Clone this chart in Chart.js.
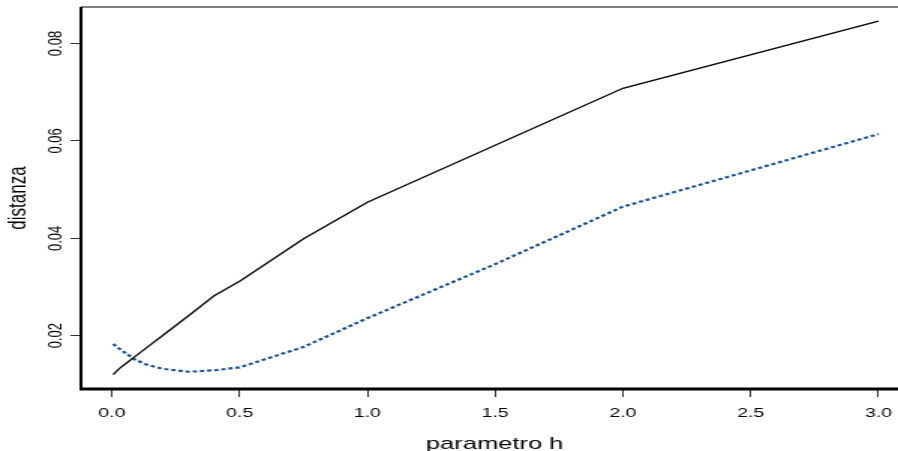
<!DOCTYPE html>
<html>
<head>
<meta charset="utf-8">
<script src="https://cdn.jsdelivr.net/npm/chart.js@4.4.1/dist/chart.umd.min.js"></script>
<style>
  html, body { margin: 0; padding: 0; background: #fff; overflow: hidden; }
  /* the reference is stretched horizontally, so draw narrow and stretch;
     the plot box runs past the right edge of the window, as in the reference */
  #wrap { width: 607px; height: 451px; transform: scaleX(1.49917); transform-origin: 0 0; }
</style>
</head>
<body>
<div id="wrap"><canvas id="myChart"></canvas></div>
<script>
var hVals = [0.005, 0.03, 0.06, 0.09, 0.14, 0.2, 0.3, 0.4, 0.5, 0.75, 1, 1.5, 2, 3];
var solidVals = [0.0120, 0.0133, 0.0145, 0.0157, 0.0177, 0.0201, 0.0241, 0.0282, 0.0312, 0.0399, 0.0474, 0.0591, 0.0708, 0.0846];
var dottedVals = [0.0183, 0.0173, 0.0162, 0.0151, 0.0140, 0.0132, 0.0126, 0.0129, 0.0135, 0.0177, 0.0236, 0.0347, 0.0465, 0.0614];
var xTicks = [0, 0.5, 1, 1.5, 2, 2.5, 3];
var yTicks = [0.02, 0.04, 0.06, 0.08];

function points(vals) {
  return hVals.map(function (h, i) { return { x: h, y: vals[i] }; });
}

// box like R: thick left/bottom, thin grey top, rotated y labels
var rStyle = {
  id: 'rStyle',
  afterDraw: function (chart) {
    var ctx = chart.ctx;
    var a = chart.chartArea;
    ctx.save();
    ctx.strokeStyle = '#555';
    ctx.lineWidth = 1.3;
    ctx.beginPath();
    ctx.moveTo(a.left, a.top);
    ctx.lineTo(a.right, a.top);
    ctx.stroke();
    ctx.strokeStyle = '#000';
    ctx.lineWidth = 2;
    ctx.beginPath();
    ctx.moveTo(a.left, a.top);
    ctx.lineTo(a.left, a.bottom);
    ctx.stroke();
    ctx.lineWidth = 3;
    ctx.beginPath();
    ctx.moveTo(a.left - 1, a.bottom);
    ctx.lineTo(a.right, a.bottom);
    ctx.stroke();

    var ys = chart.scales.y;
    ctx.fillStyle = '#000';
    ctx.font = '13px "Liberation Sans", Arial, sans-serif';
    ctx.textAlign = 'center';
    ctx.textBaseline = 'middle';
    ys.ticks.forEach(function (t) {
      var py = ys.getPixelForValue(t.value);
      ctx.save();
      ctx.translate(37, py);
      ctx.rotate(-Math.PI / 2);
      ctx.fillText(t.value.toFixed(2), 0, 0);
      ctx.restore();
    });
    ctx.restore();
  }
};

var ctx = document.getElementById('myChart').getContext('2d');
var myChart = new Chart(ctx, {
  type: 'line',
  data: {
    datasets: [{
      data: points(solidVals),
      borderColor: '#000',
      borderWidth: 1.3,
      pointRadius: 0,
      tension: 0
    }, {
      data: points(dottedVals),
      borderColor: '#1d5091',
      borderWidth: 2.2,
      borderDash: [2.8, 2],
      pointRadius: 0,
      tension: 0
    }]
  },
  plugins: [rStyle],
  options: {
    responsive: true,
    maintainAspectRatio: false,
    animation: false,
    events: [],
    layout: { padding: { top: 7, right: 0, left: 0, bottom: 0 } },
    plugins: { legend: { display: false }, tooltip: { enabled: false } },
    scales: {
      x: {
        type: 'linear',
        min: -0.121,
        max: 3.117,
        afterBuildTicks: function (scale) {
          scale.ticks = xTicks.map(function (v) { return { value: v }; });
        },
        afterFit: function (scale) { scale.height = 62; },
        border: { display: false },
        grid: { drawOnChartArea: false, drawTicks: true, tickLength: 8, color: '#333', lineWidth: 1 },
        ticks: {
          color: '#000',
          padding: 9,
          maxRotation: 0,
          font: { family: '"Liberation Sans", Arial, sans-serif', size: 13 },
          callback: function (v) { return Number(v).toFixed(1); }
        },
        title: {
          display: true,
          text: 'parametro h',
          color: '#000',
          padding: { top: 0, bottom: -2 },
          font: { family: '"Liberation Sans", Arial, sans-serif', size: 17, lineHeight: 1 }
        }
      },
      y: {
        type: 'linear',
        min: 0.00906,
        max: 0.0875,
        afterBuildTicks: function (scale) {
          scale.ticks = yTicks.map(function (v) { return { value: v }; });
        },
        afterFit: function (scale) { scale.width = 54; },
        border: { display: false },
        grid: { drawOnChartArea: false, drawTicks: true, tickLength: 7, color: '#333', lineWidth: 1 },
        ticks: {
          color: 'rgba(0,0,0,0)',
          font: { size: 1 }
        },
        title: {
          display: true,
          text: 'distanza',
          color: '#000',
          padding: { top: 4, bottom: 0 },
          font: { family: '"Liberation Sans", Arial, sans-serif', size: 17, lineHeight: 1 }
        }
      }
    }
  }
});
</script>
</body>
</html>
